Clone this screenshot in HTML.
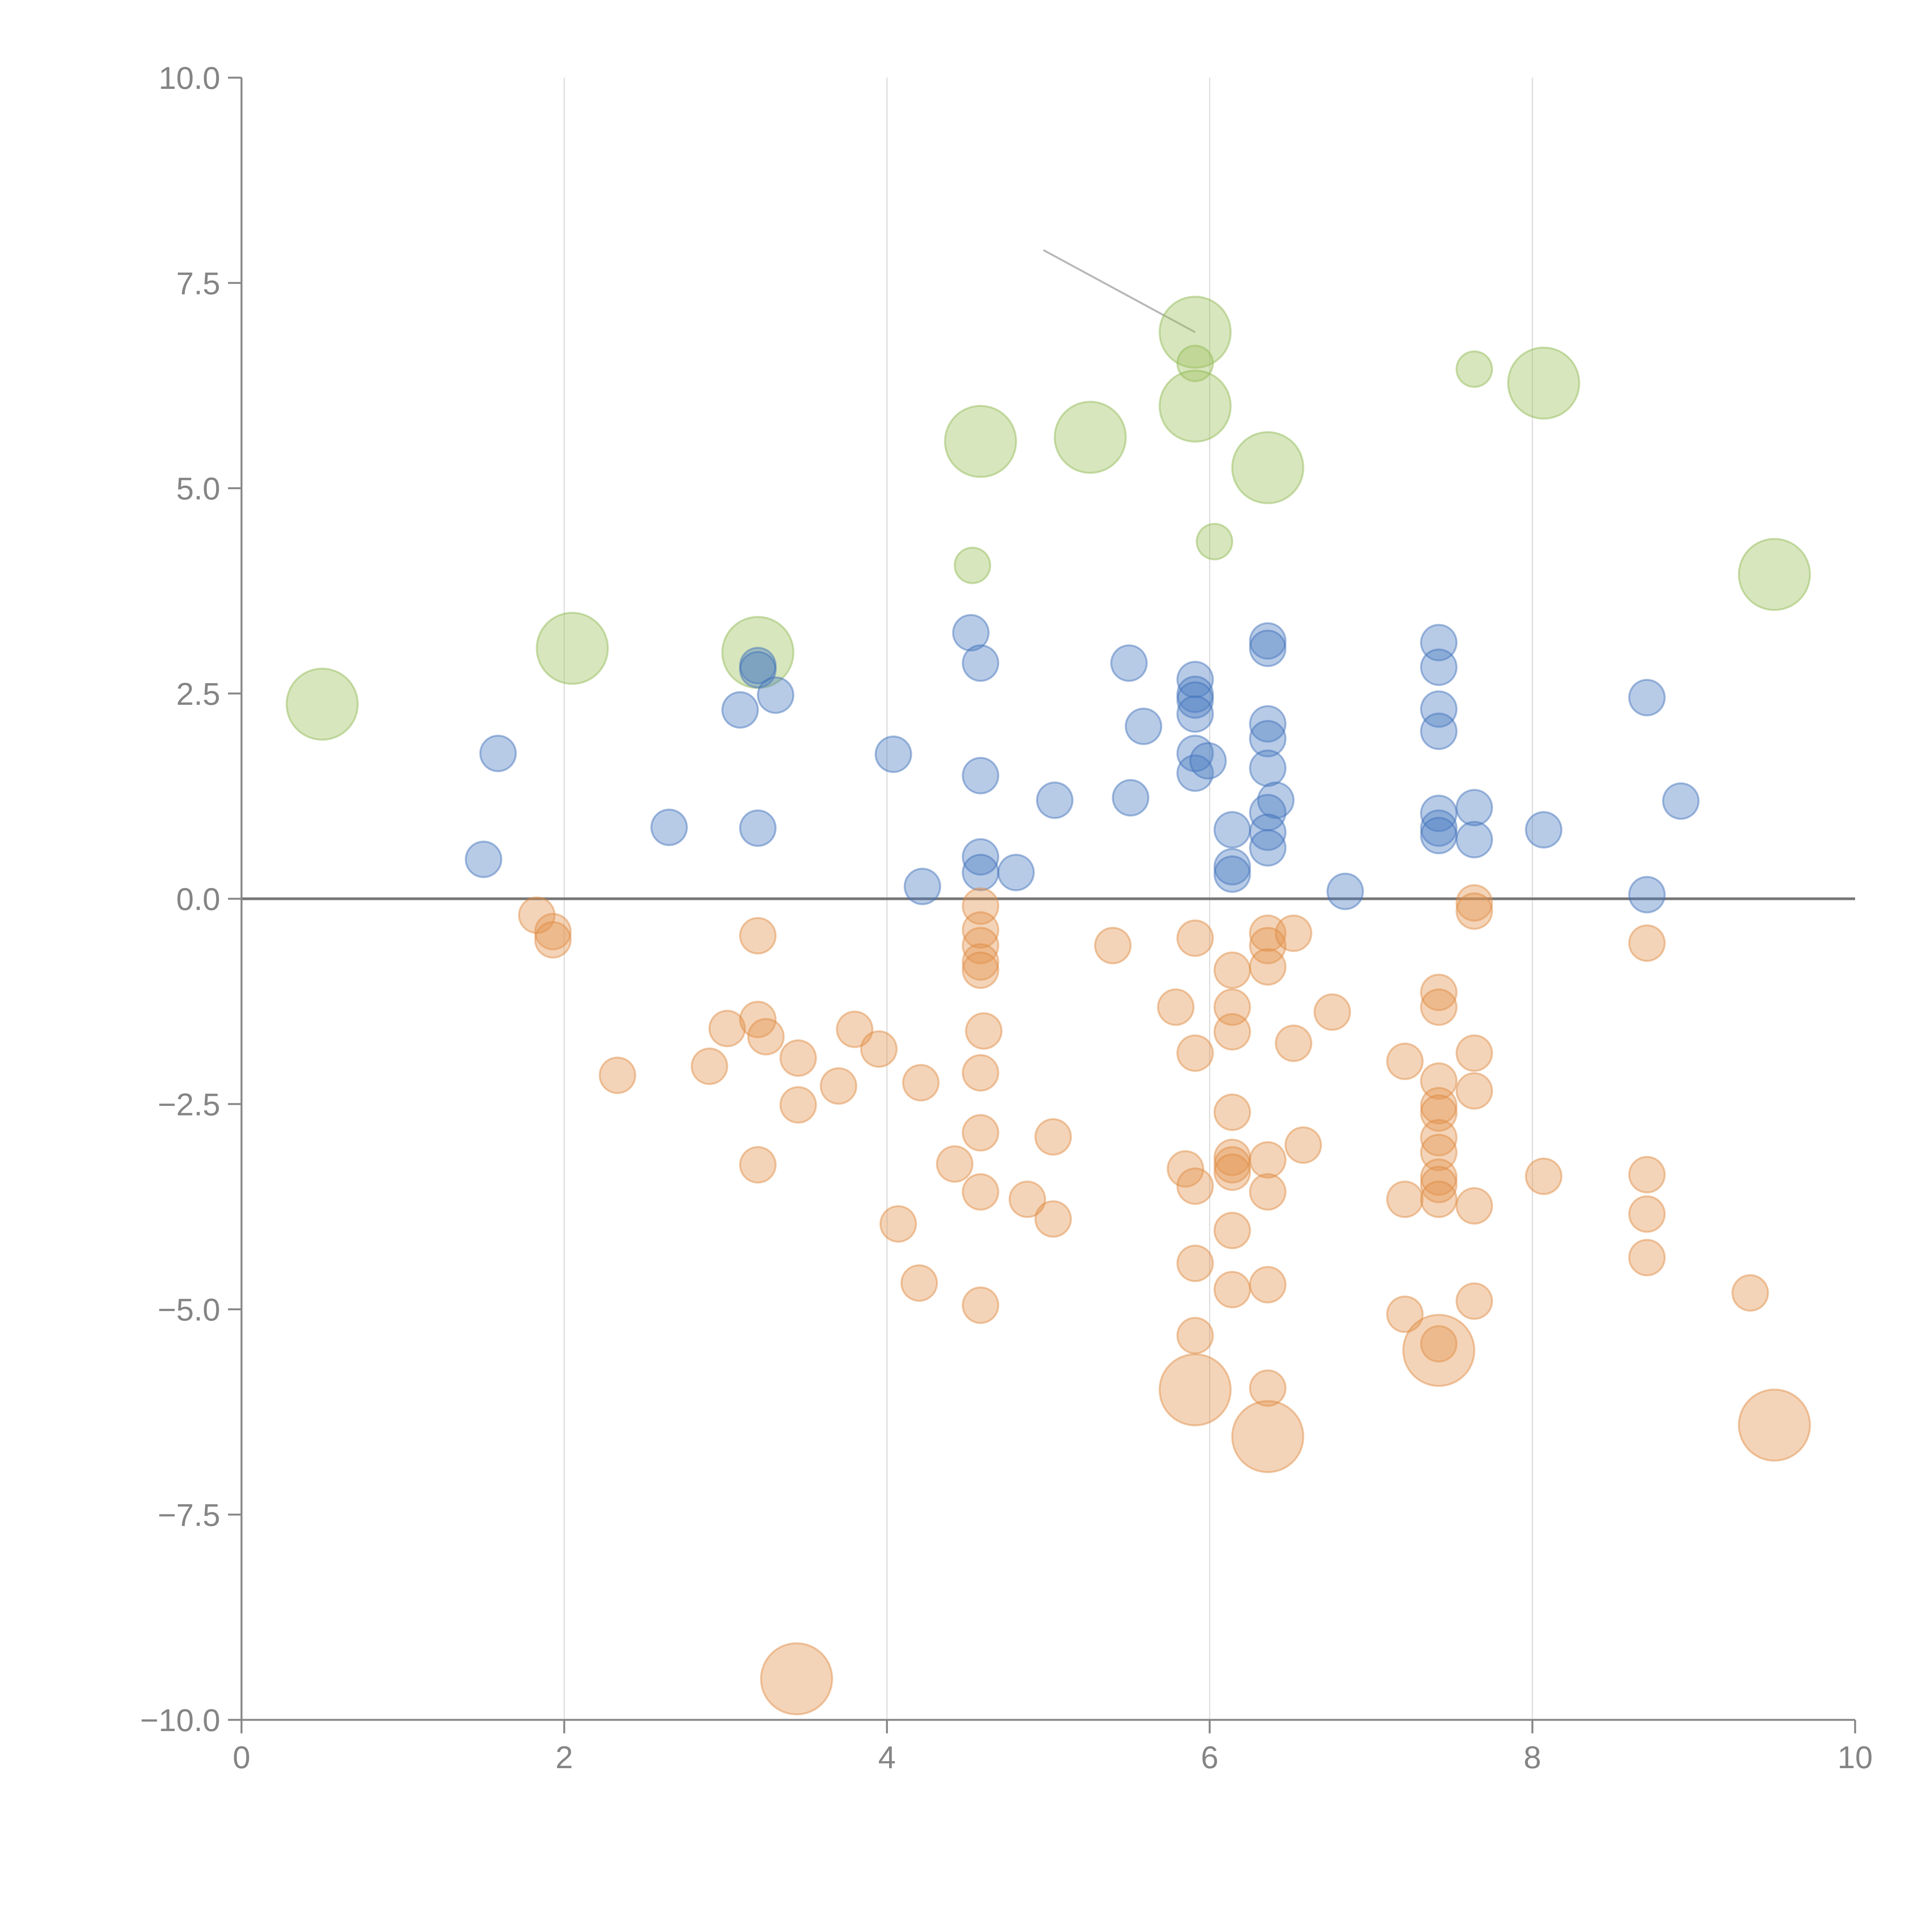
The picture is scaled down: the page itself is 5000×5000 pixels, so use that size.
<!DOCTYPE html>
<html><head><meta charset="utf-8"><style>
html,body{margin:0;padding:0;background:#fff;}
svg{display:block;}
text{font-family:"Liberation Sans",Arial,sans-serif;fill:#858585;}
</style></head><body>
<svg id="chart" width="5000" height="5000" viewBox="0 0 5000 5000" xmlns="http://www.w3.org/2000/svg">
<g id="grid"></g>
<g id="marks"></g>
<g id="axes"></g>
</svg>
<script>
const xTicks=[0,2,4,6,8,10];
const yTicks=[-10,-7.5,-5,-2.5,0,2.5,5,7.5,10];
const yTickLabels=["\u221210.0","\u22127.5","\u22125.0","\u22122.5","0.0","2.5","5.0","7.5","10.0"];
const greenX=[0.5,2.05,3.2,4.53,4.58,5.26,5.91,5.91,5.91,6.03,6.36,7.64,8.07,9.5];
const greenY=[2.37,3.05,3.0,4.06,5.57,5.62,6.9,6.52,6.0,4.35,5.25,6.45,6.28,3.95];
const greenS=[4,4,4,1,4,4,4,1,4,1,4,1,4,4];
const blueX=[1.5,1.59,2.65,3.09,3.2,3.2,3.31,3.2,4.04,4.22,4.52,4.58,4.58,4.58,4.58,4.8,5.04,5.5,5.51,5.59,5.91,5.91,5.91,5.91,5.91,5.91,5.99,6.14,6.14,6.14,6.36,6.36,6.36,6.36,6.36,6.41,6.36,6.36,6.36,6.84,7.42,7.42,7.42,7.42,7.42,7.42,7.42,7.64,7.64,8.07,8.71,8.71,8.92];
const blueY=[0.48,1.77,0.87,2.3,2.84,2.79,2.48,0.86,1.76,0.15,3.24,2.87,1.5,0.51,0.32,0.32,1.2,2.87,1.23,2.1,2.67,2.49,2.42,2.25,1.77,1.53,1.68,0.84,0.39,0.3,3.14,3.05,2.13,1.95,1.59,1.2,1.05,0.81,0.62,0.09,3.12,2.82,2.31,2.04,1.04,0.86,0.77,1.11,0.72,0.84,2.45,0.05,1.19];
const orangeX=[1.83,1.93,1.93,2.33,2.9,3.01,3.2,3.2,3.25,3.2,3.45,3.45,3.7,3.8,3.95,4.07,4.2,4.21,4.42,4.58,4.58,4.58,4.58,4.58,4.6,4.58,4.58,4.58,4.58,4.87,5.03,5.03,5.4,5.79,5.85,5.91,5.91,5.91,5.91,5.91,6.14,6.14,6.14,6.14,6.14,6.14,6.14,6.14,6.14,6.36,6.36,6.36,6.52,6.36,6.36,6.36,6.36,6.52,6.58,6.76,7.21,7.21,7.21,7.42,7.42,7.42,7.42,7.42,7.42,7.42,7.42,7.42,7.42,7.42,7.64,7.64,7.64,7.64,7.64,7.64,8.07,8.71,8.71,8.71,8.71,9.35,5.91,6.36,7.42,9.5,3.44];
const orangeY=[-0.2,-0.4,-0.5,-2.15,-2.04,-1.58,-0.45,-1.47,-1.68,-3.24,-1.94,-2.51,-2.28,-1.59,-1.83,-3.96,-4.68,-2.24,-3.23,-0.09,-0.38,-0.57,-0.77,-0.87,-1.61,-2.12,-2.85,-3.57,-4.95,-3.66,-2.9,-3.9,-0.57,-1.32,-3.29,-0.48,-1.88,-3.5,-4.44,-5.32,-0.87,-1.32,-1.62,-2.6,-3.15,-3.24,-3.33,-4.04,-4.76,-0.42,-0.57,-0.83,-0.42,-3.18,-3.57,-4.7,-5.96,-1.76,-3.0,-1.38,-1.98,-3.66,-5.06,-1.14,-1.32,-2.22,-2.52,-2.61,-2.91,-3.09,-3.39,-3.48,-3.66,-5.42,-0.05,-0.15,-1.88,-2.34,-3.74,-4.9,-3.38,-0.54,-3.36,-3.84,-4.37,-4.8,-5.98,-6.55,-5.5,-6.41,-9.5];
const orangeS=[1,1,1,1,1,1,1,1,1,1,1,1,1,1,1,1,1,1,1,1,1,1,1,1,1,1,1,1,1,1,1,1,1,1,1,1,1,1,1,1,1,1,1,1,1,1,1,1,1,1,1,1,1,1,1,1,1,1,1,1,1,1,1,1,1,1,1,1,1,1,1,1,1,1,1,1,1,1,1,1,1,1,1,1,1,1,4,4,4,4,4];

const NS="http://www.w3.org/2000/svg";
const X0=625,X1=4801,Y0=4451,Y1=201;
function sx(v){return X0+(v-0)/(10-0)*(X1-X0);}
function sy(v){return Y0-(v+10)/20*(Y0-Y1);}
function sr(s){return 46*Math.sqrt(s);}
function mk(tag,attrs,parent){const e=document.createElementNS(NS,tag);for(const k in attrs)e.setAttribute(k,attrs[k]);parent.appendChild(e);return e;}
const grid=document.getElementById('grid'),marks=document.getElementById('marks'),axes=document.getElementById('axes');

xTicks.forEach(t=>{
  if(t>0&&t<10){const g=mk('line',{x1:sx(t),x2:sx(t),y1:Y1,y2:Y0,stroke:'#dcdcdc','stroke-width':3},grid);
  
  }
});
const z=mk('line',{x1:X0,x2:X1,y1:sy(0),y2:sy(0),stroke:'#777','stroke-width':7},grid);



const an=mk('line',{x1:sx(4.97),y1:sy(7.9),x2:sx(5.91),y2:sy(6.9),stroke:'#b8b8b8','stroke-width':5},marks);



function series(xs,ys,ss,fill,stroke,name){
  xs.forEach((x,i)=>{
    const c=mk('circle',{cx:sx(x),cy:sy(ys[i]),r:sr(ss?ss[i]:1),fill:fill,'fill-opacity':0.4,stroke:stroke,'stroke-opacity':0.45,'stroke-width':5},marks);
    
    
  });
}
series(greenX,greenY,greenS,'#9dc15d','#8fb84f','green-bubble');
series(blueX,blueY,null,'#4a7cc4','#3f6fb8','blue-bubble');
series(orangeX,orangeY,orangeS,'#e4944e','#dd8a40','orange-bubble');

const ya=mk('line',{x1:X0,x2:X0,y1:Y1,y2:Y0+35,stroke:'#888','stroke-width':5},axes);


const xa=mk('line',{x1:X0-35,x2:X1,y1:Y0,y2:Y0,stroke:'#888','stroke-width':5},axes);


yTicks.forEach((t,i)=>{
  const tk=mk('line',{x1:X0-35,x2:X0,y1:sy(t),y2:sy(t),stroke:'#888','stroke-width':5},axes);
  
  
  const tx=mk('text',{x:X0-55,y:sy(t)+29,'text-anchor':'end','font-size':82},axes);
  tx.textContent=yTickLabels[i];
  
  
});
xTicks.forEach(t=>{
  const tk=mk('line',{x1:sx(t),x2:sx(t),y1:Y0,y2:Y0+35,stroke:'#888','stroke-width':5},axes);
  
  
  const tx=mk('text',{x:sx(t),y:Y0+125,'text-anchor':'middle','font-size':82},axes);
  tx.textContent=String(t);
  
  
});
</script>
</body></html>
